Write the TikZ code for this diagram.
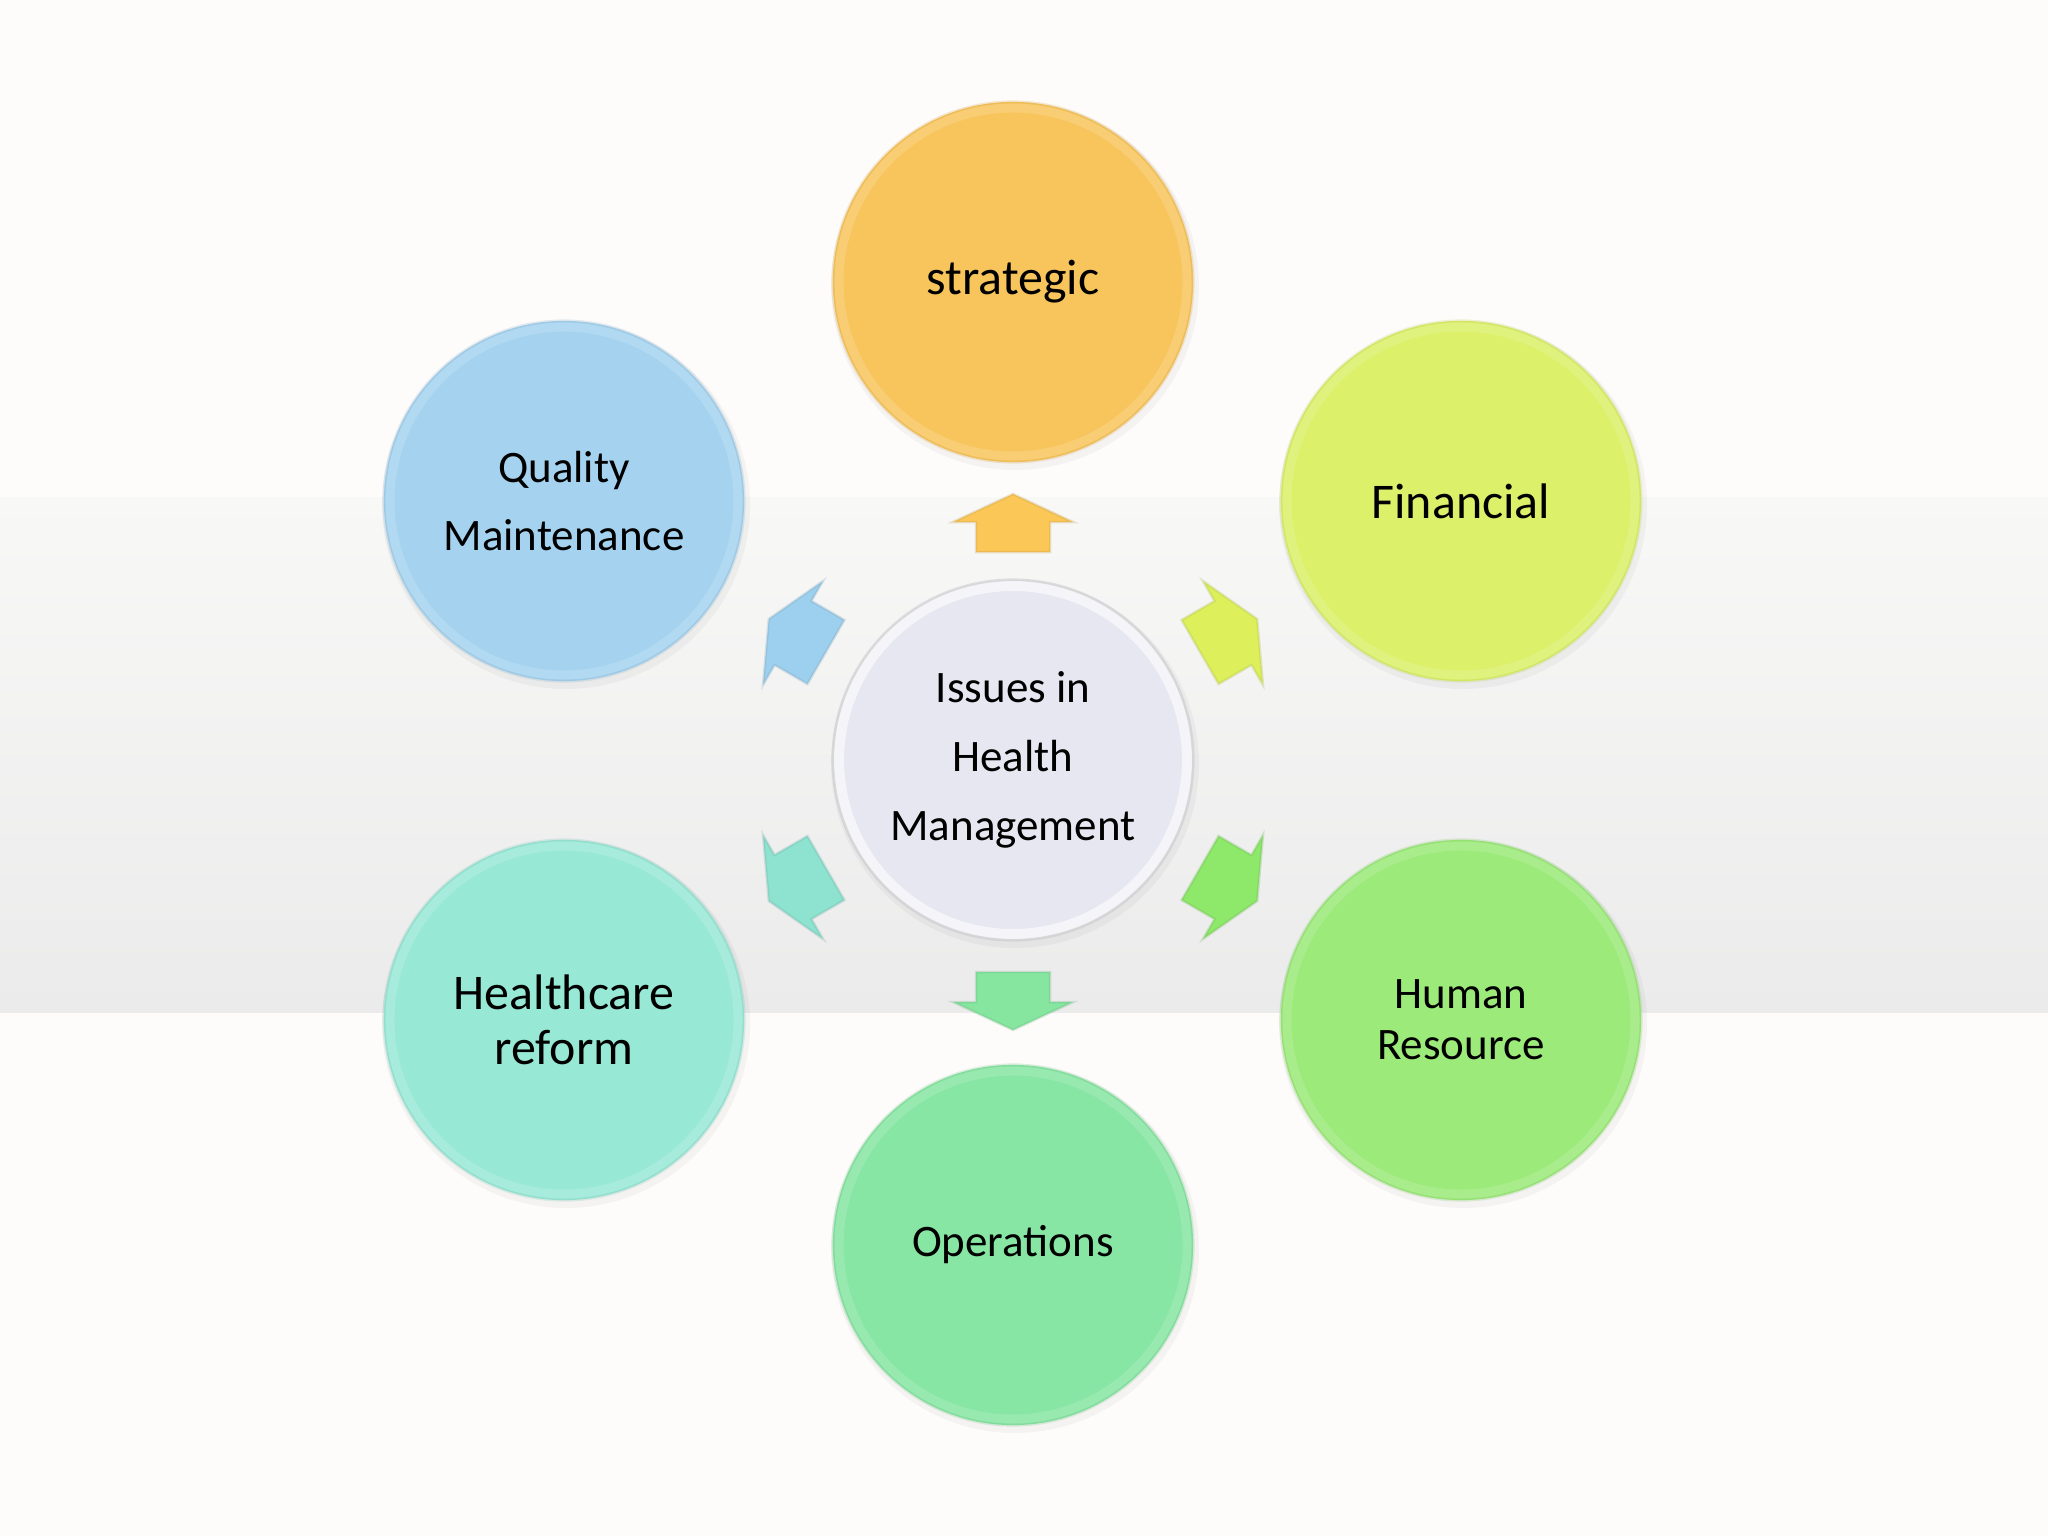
\documentclass[tikz,border=0pt]{standalone}
\usepackage{fontspec}
\setmainfont{Carlito}
\usetikzlibrary{calc}
\definecolor{bgW}{HTML}{FEFCFA}
\definecolor{bandT}{HTML}{F8F8F7}
\definecolor{bandB}{HTML}{EBEBEB}
\definecolor{cStr}{HTML}{F8C55C}
\definecolor{cFin}{HTML}{DCF069}
\definecolor{cHR}{HTML}{9CEA7A}
\definecolor{cOps}{HTML}{88E6A4}
\definecolor{cHC}{HTML}{98E8D6}
\definecolor{cQM}{HTML}{A5D3EF}
\definecolor{cCen}{HTML}{E6E7F0}
\definecolor{aStr}{HTML}{FBC858}
\definecolor{aFin}{HTML}{DDF05C}
\definecolor{aHR}{HTML}{8EE86A}
\definecolor{aOps}{HTML}{86E6A0}
\definecolor{aHC}{HTML}{8EE2D0}
\definecolor{aQM}{HTML}{9DD0EE}
\newcommand{\fsbig}{\fontsize{14.2pt}{15.6pt}\selectfont}
\newcommand{\fssmall}{\fontsize{12.8pt}{19.6pt}\selectfont}
\newcommand{\fshr}{\fontsize{12.8pt}{14.4pt}\selectfont}
\newcommand{\blockarr}[4]{%
  \begin{scope}[shift={(cen)}, rotate=#1]
    \fill[#2, draw=#2!75!black, draw opacity=.25, line width=.25mm]
      (#3,-37) -- ++(#4,0) -- ++(0,-23) -- ++(28,60) -- ++(-28,60)
      -- ++(0,-23) -- ++(-#4,0) -- cycle;
  \end{scope}}
\tikzset{
  bub/.style={circle, minimum size=3.6cm, inner sep=0pt, align=center, text=black,
              draw=#1!85!black, draw opacity=.25, line width=.3mm, fill=#1},
  shad/.style={fill=black, opacity=.035},
  rim/.style={draw=white, draw opacity=.14, line width=.9mm},
}
\begin{document}
\begin{tikzpicture}[x=0.01cm, y=-0.01cm]
  \useasboundingbox (0,0) rectangle (2048,1536);
  \fill[bgW] (0,0) rectangle (2048,1536);
  \shade[top color=bandT, bottom color=bandB] (0,497) rectangle (2048,1012);

  \coordinate (cen) at (1013,760);
  \coordinate (pStr) at (1013,282);
  \coordinate (pFin) at (1461,501);
  \coordinate (pHR) at (1461,1020);
  \coordinate (pOps) at (1013,1245);
  \coordinate (pHC) at (564,1020);
  \coordinate (pQM) at (564,501);

  % soft shadows
  \foreach \p in {cen,pStr,pFin,pHR,pOps,pHC,pQM}{
    \fill[shad] ($(\p)+(2,4)$) circle[radius=184];
  }

  % circles
  \node[bub=cCen, draw=gray!45, draw opacity=.5, font=\fssmall] (center) at (cen)
    {Issues in\\Health\\Management};
  \node[bub=cStr, font=\fsbig] (str) at (pStr) {strategic};
  \node[bub=cFin, font=\fsbig] (fin) at (pFin) {Financial};
  \node[bub=cHR, font=\fshr] (hr) at (pHR) {Human\\Resource};
  \node[bub=cOps, font=\fssmall] (ops) at (pOps) {Operations};
  \node[bub=cHC, font=\fsbig] (hc) at (pHC) {Healthcare\\reform};
  \node[bub=cQM, font=\fssmall] (qm) at (pQM) {Quality\\Maintenance};

  % inner bevel rims
  \foreach \p in {pStr,pFin,pHR,pOps,pHC,pQM}{
    \draw[rim] (\p) circle[radius=174];
  }
  \draw[draw=white, draw opacity=.6, line width=1mm] (cen) circle[radius=174];

  % block arrows
  \blockarr{90}{aStr}{208}{30}
  \blockarr{-90}{aOps}{212}{30}
  \blockarr{30}{aFin}{216}{38}
  \blockarr{-30}{aHR}{216}{38}
  \blockarr{150}{aQM}{216}{38}
  \blockarr{-150}{aHC}{216}{38}
\end{tikzpicture}
\end{document}
